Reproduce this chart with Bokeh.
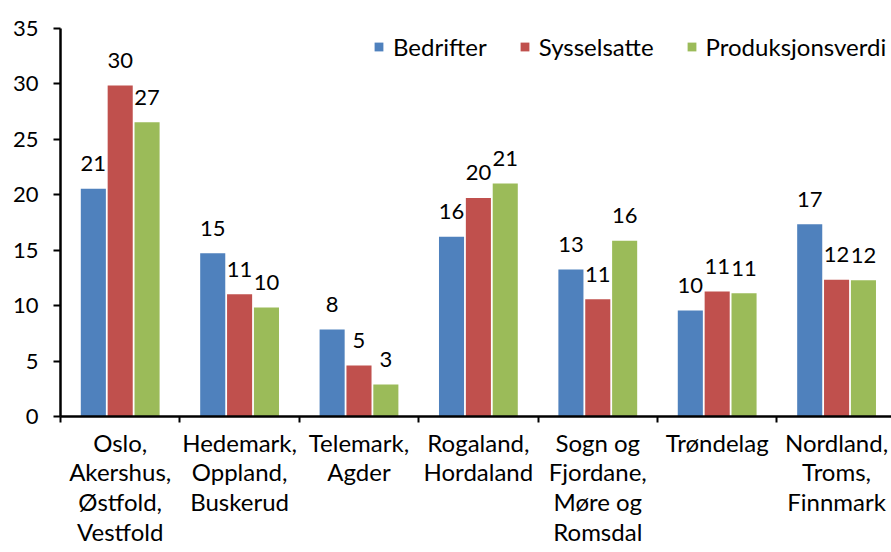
from bokeh.plotting import figure
from bokeh.models import ColumnDataSource, FixedTicker, Range1d, Legend, LegendItem
from bokeh.embed import file_html
from bokeh.resources import INLINE
from bokeh.core.properties import value

categories = [
    "Oslo,\nAkershus,\nØstfold,\nVestfold",
    "Hedemark,\nOppland,\nBuskerud",
    "Telemark,\nAgder",
    "Rogaland,\nHordaland",
    "Sogn og\nFjordane,\nMøre og\nRomsdal",
    "Trøndelag",
    "Nordland,\nTroms,\nFinnmark",
]
series_names = ["Bedrifter", "Sysselsatte", "Produksjonsverdi"]
bedrifter = [20.54, 14.73, 7.85, 16.21, 13.26, 9.56, 17.35]
sysselsatte = [29.86, 11.03, 4.60, 19.72, 10.58, 11.28, 12.33]
produksjonsverdi = [26.55, 9.83, 2.89, 21.02, 15.85, 11.12, 12.30]
y_ticks = [0, 5, 10, 15, 20, 25, 30, 35]

colors = ["#4F81BD", "#C0504D", "#9BBB59"]
FONT = "Lato"
FS = "24px"
FS_NUM = "22px"

p = figure(frame_width=831, frame_height=388, output_backend="svg", toolbar_location=None,
           x_range=Range1d(0, 6.96), y_range=Range1d(0, 35),
           min_border_left=60, min_border_right=0, min_border_top=28, min_border_bottom=136)
p.outline_line_color = None
p.xgrid.grid_line_color = None
p.ygrid.grid_line_color = None
p.background_fill_color = "white"

n = len(categories)
centers = [i + 0.5 for i in range(n)]
offsets = [-0.225, 0.0, 0.225]
bar_w = 0.21
items = []
for vals, name, col, off in zip([bedrifter, sysselsatte, produksjonsverdi], series_names, colors, offsets):
    src = ColumnDataSource(dict(x=[c + off for c in centers], top=vals,
                                lab=[f"{v:.0f}" for v in vals]))
    r = p.vbar(x="x", top="top", width=bar_w, source=src, fill_color=col, line_color=None)
    p.text(x="x", y="top", text="lab", source=src, text_align="center",
           text_baseline="alphabetic", y_offset=-25, text_font=value(FONT),
           text_font_size=FS_NUM, text_color="black")
    items.append(LegendItem(label=name, renderers=[r]))

legend = Legend(items=items, orientation="horizontal", location=(313, 355),
                glyph_width=11, glyph_height=11, label_standoff=9, spacing=32,
                padding=0, margin=0, border_line_color=None, background_fill_alpha=0,
                label_text_font=FONT, label_text_font_size=FS, label_text_color="black")
p.add_layout(legend, "center")

# x axis
xa = p.xaxis[0]
xa.ticker = FixedTicker(ticks=centers, minor_ticks=list(range(0, n + 1)))
xa.major_label_overrides = {c: lab for c, lab in zip(centers, categories)}
xa.major_tick_out = 0
xa.major_tick_in = 0
xa.minor_tick_out = 6
xa.minor_tick_in = 0
xa.minor_tick_line_color = "black"
xa.minor_tick_line_width = 2
xa.axis_line_color = "black"
xa.axis_line_width = 2.5
xa.major_label_text_font = FONT
xa.major_label_text_font_size = FS
xa.major_label_text_color = "black"
xa.major_label_text_line_height = 1.03
xa.major_label_standoff = 5
xa.major_label_orientation = "horizontal"

# y axis
ya = p.yaxis[0]
ya.ticker = FixedTicker(ticks=y_ticks, minor_ticks=[])
ya.major_tick_out = 7
ya.major_tick_in = 0
ya.major_tick_line_width = 2
ya.major_tick_line_color = "black"
ya.minor_tick_out = 0
ya.minor_tick_in = 0
ya.axis_line_color = "black"
ya.axis_line_width = 2.5
ya.major_label_text_font = FONT
ya.major_label_text_font_size = FS_NUM
ya.major_label_text_color = "black"
ya.major_label_standoff = 15

open("out.html", "w").write(file_html(p, INLINE))
